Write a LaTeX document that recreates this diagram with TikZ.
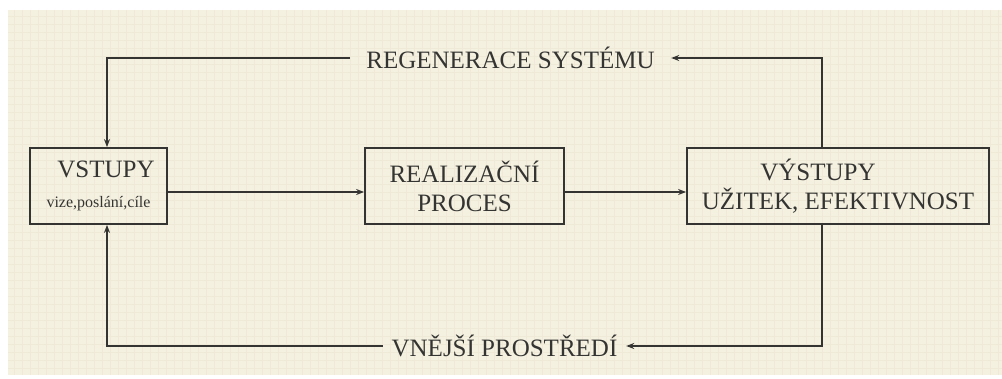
\documentclass[tikz,border=0pt]{standalone}
\usepackage{fontspec}
\setmainfont{Liberation Serif}
\usetikzlibrary{arrows.meta}
\definecolor{paper}{RGB}{245,241,224}
\definecolor{gridc}{RGB}{239,234,216}
\definecolor{ink}{RGB}{52,52,50}
\tikzset{
  box/.style={draw=ink, line width=1.8pt, minimum height=76pt, inner sep=0pt,
    align=center, font=\fontsize{25}{29}\selectfont, text=ink},
  lbl/.style={font=\fontsize{25}{29}\selectfont, text=ink, inner sep=0pt, minimum height=20pt},
  conn/.style={draw=ink, line width=1.4pt, -{Stealth[length=8pt,width=6pt]}},
}
\begin{document}
\begin{tikzpicture}[x=1pt,y=-1pt]
\useasboundingbox (0,0) rectangle (1002,378);
\fill[white] (0,0) rectangle (1002,378);
\fill[paper] (8,10) rectangle (1002,375);
\foreach \gx in {14,22,...,1000} \draw[gridc, line width=0.4pt] (\gx,10) -- (\gx,375);
\foreach \gy in {16,24,...,374} \draw[gridc, line width=0.4pt] (8,\gy) -- (1002,\gy);

\node[box, minimum width=137pt] (in) at (98.5,186)
  {\hspace*{15pt}VSTUPY\\[1pt]{\fontsize{16}{18}\selectfont vize,poslání,cíle}};
\node[box, minimum width=199pt] (proc) at (464.5,186) {REALIZAČNÍ\\PROCES};
\node[box, minimum width=302pt] (out) at (838,186) {VÝSTUPY\hspace*{40pt}\\UŽITEK, EFEKTIVNOST};

\node[lbl, minimum width=321pt] (reg) at (510.5,58) {REGENERACE SYSTÉMU};
\node[lbl, minimum width=243pt] (env) at (504.5,346) {VNĚJŠÍ PROSTŘEDÍ};

\coordinate (tr) at (822,58);
\coordinate (tl) at (107,58);
\coordinate (br) at (822,346);
\coordinate (bl) at (107,346);

\draw[conn] ([yshift=-6pt]in.east) -- ([yshift=-6pt]proc.west);
\draw[conn] ([yshift=-6pt]proc.east) -- ([yshift=-6pt]out.west);

\draw[conn] (out.north -| tr) -- (tr) -- (reg.east);
\draw[conn] (reg.west) -- (tl) -- (in.north -| tl);
\draw[conn] (out.south -| br) -- (br) -- (env.east);
\draw[conn] (env.west) -- (bl) -- (in.south -| bl);
\end{tikzpicture}
\end{document}
